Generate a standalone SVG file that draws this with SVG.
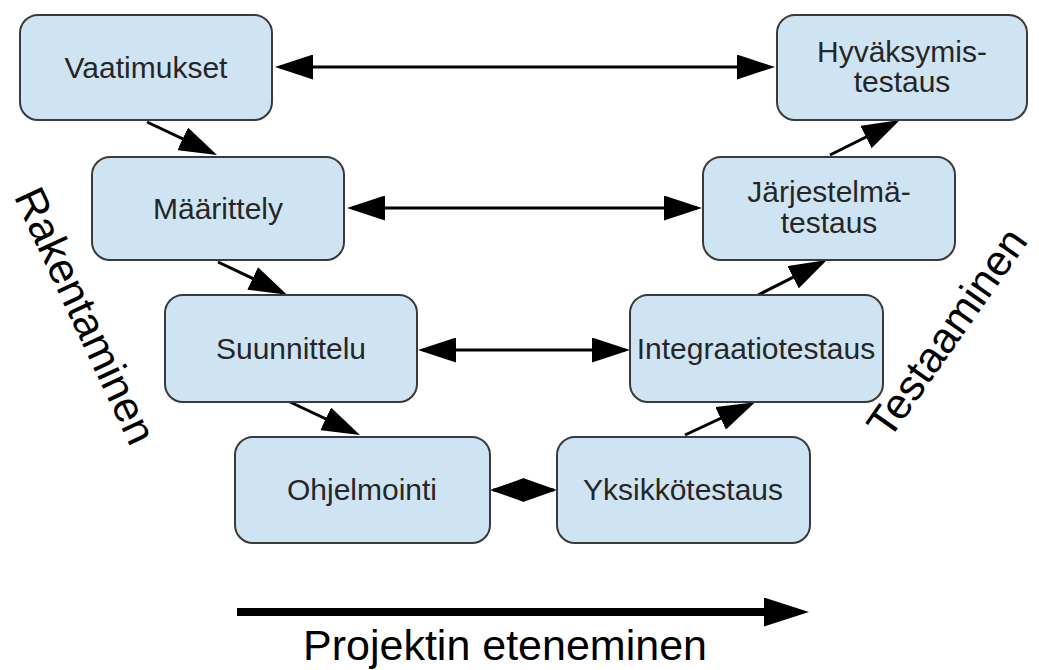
<svg xmlns="http://www.w3.org/2000/svg" width="1039" height="670" viewBox="0 0 1039 670">
<style>
  .node rect { fill: #cfe4f3; stroke: #3a3a3a; stroke-width: 2; }
  .node text { font-family: "Liberation Sans", Arial, sans-serif; font-size: 30px; fill: #262626; text-anchor: middle; }
  .conn { stroke: #000; stroke-width: 3; fill: none; }
  .big { font-family: "Liberation Sans", Arial, sans-serif; font-size: 43px; fill: #000; text-anchor: middle; }
</style>
<defs>
  <marker id="ah" markerUnits="userSpaceOnUse" viewBox="0 0 38 25" refX="33" refY="12.5" markerWidth="38" markerHeight="25" orient="auto-start-reverse">
    <path d="M0,0 L38,12.5 L0,25 Z" fill="#000"/>
  </marker>
  <marker id="ahs" markerUnits="userSpaceOnUse" viewBox="0 0 34 24" refX="31" refY="12" markerWidth="34" markerHeight="24" orient="auto-start-reverse">
    <path d="M0,0 L34,12 L0,24 Z" fill="#000"/>
  </marker>
  <marker id="big" markerUnits="userSpaceOnUse" viewBox="0 0 45 29" refX="0" refY="14.5" markerWidth="45" markerHeight="29" orient="auto">
    <path d="M0,0 L45,14.5 L0,29 Z" fill="#000"/>
  </marker>
</defs>
<rect width="1039" height="670" fill="#fff"/>

<g id="connectors">
  <!-- horizontal double arrows -->
  <line class="conn" x1="280" y1="67" x2="770" y2="67" marker-start="url(#ah)" marker-end="url(#ah)"/>
  <line class="conn" x1="352" y1="208" x2="697" y2="208" marker-start="url(#ah)" marker-end="url(#ah)"/>
  <line class="conn" x1="423" y1="350" x2="625" y2="350" marker-start="url(#ah)" marker-end="url(#ah)"/>
  <line class="conn" x1="493" y1="490" x2="554" y2="490" marker-start="url(#ahs)" marker-end="url(#ahs)"/>
  <!-- left descending arrows -->
  <line class="conn" x1="147" y1="122" x2="212.5" y2="152.9" marker-end="url(#ah)"/>
  <line class="conn" x1="218" y1="262" x2="282.5" y2="292.6" marker-end="url(#ah)"/>
  <line class="conn" x1="290" y1="402" x2="355.5" y2="432.9" marker-end="url(#ah)"/>
  <!-- right ascending arrows -->
  <line class="conn" x1="685" y1="435" x2="750.5" y2="404.3" marker-end="url(#ah)"/>
  <line class="conn" x1="758" y1="295" x2="822.5" y2="262.3" marker-end="url(#ah)"/>
  <line class="conn" x1="830" y1="155" x2="895.5" y2="122.3" marker-end="url(#ah)"/>
  <!-- project progress arrow -->
  <line x1="237" y1="612" x2="764" y2="612" stroke="#000" stroke-width="8" marker-end="url(#big)"/>
</g>

<g id="n-vaatimukset" class="node">
  <rect x="20" y="15" width="252" height="105" rx="18"/>
  <text x="146" y="78">Vaatimukset</text>
</g>
<g id="n-maarittely" class="node">
  <rect x="92" y="157" width="252" height="103" rx="18"/>
  <text x="218" y="219">Määrittely</text>
</g>
<g id="n-suunnittelu" class="node">
  <rect x="165" y="295" width="252" height="107" rx="18"/>
  <text x="291" y="359">Suunnittelu</text>
</g>
<g id="n-ohjelmointi" class="node">
  <rect x="235" y="437" width="255" height="106" rx="18"/>
  <text x="362" y="500">Ohjelmointi</text>
</g>
<g id="n-yksikkotestaus" class="node">
  <rect x="557" y="437" width="253" height="106" rx="18"/>
  <text x="683" y="500">Yksikkötestaus</text>
</g>
<g id="n-integraatiotestaus" class="node">
  <rect x="630" y="295" width="253" height="107" rx="18"/>
  <text x="756" y="359">Integraatiotestaus</text>
</g>
<g id="n-jarjestelmatestaus" class="node">
  <rect x="703" y="157" width="252" height="103" rx="18"/>
  <text x="829" y="202">Järjestelmä-</text>
  <text x="829" y="233">testaus</text>
</g>
<g id="n-hyvaksymistestaus" class="node">
  <rect x="777" y="15" width="250" height="105" rx="18"/>
  <text x="902" y="62">Hyväksymis-</text>
  <text x="902" y="92">testaus</text>
</g>

<text class="big" transform="translate(72,322) rotate(65)">Rakentaminen</text>
<text class="big" transform="translate(959,341) rotate(-55)" font-size="41">Testaaminen</text>
<text class="big" x="505" y="660" font-size="45">Projektin eteneminen</text>
</svg>
